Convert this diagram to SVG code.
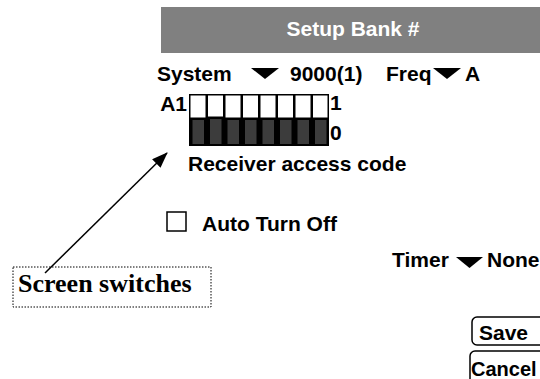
<svg xmlns="http://www.w3.org/2000/svg" width="540" height="379" viewBox="0 0 540 379">
<style>
.t{font-family:"Liberation Sans",Arial,sans-serif;font-weight:bold;font-size:21px;fill:#000}
.w{fill:#fff}
.dd{fill:#000}
.cell{fill:#fff}
.dk{fill:#3c3c3c}
.btn{fill:#fff;stroke:#000;stroke-width:1.5}
.lbl{font-family:"Liberation Serif","Times New Roman",serif;font-weight:bold;font-size:26px;fill:#000}
</style>
<defs>
<marker id="ah" markerUnits="userSpaceOnUse" markerWidth="16" markerHeight="12" refX="15" refY="6" orient="auto">
<path d="M0,0 L16,6 L0,12 z" fill="#000"/>
</marker>
</defs>
<rect width="540" height="379" fill="#fff"/>
<g id="header">
<rect x="161" y="7" width="379" height="46" fill="#808080"/>
<text class="t w" x="353" y="36" text-anchor="middle">Setup Bank #</text>
</g>
<g id="system-row">
<text class="t" x="157" y="81">System</text>
<polygon class="dd" points="251,68 279,68 265,79"/>
<text class="t" x="290" y="81">9000(1)</text>
<text class="t" x="386" y="81">Freq</text>
<polygon class="dd" points="433,68 461,68 447,79"/>
<text class="t" x="465" y="81">A</text>
</g>
<g id="switches">
<text class="t" x="187" y="111" text-anchor="end">A1</text>
<rect x="189" y="94" width="140" height="52" fill="#000"/>
<rect class="cell" x="190.5" y="95.5" width="15" height="22"/>
<rect class="cell" x="208" y="95.5" width="15" height="21"/>
<rect class="cell" x="225.5" y="95.5" width="15" height="22"/>
<rect class="cell" x="243" y="95.5" width="15" height="22"/>
<rect class="cell" x="260.5" y="95.5" width="15" height="22"/>
<rect class="cell" x="278" y="95.5" width="15" height="22"/>
<rect class="cell" x="295.5" y="95.5" width="15" height="22"/>
<rect class="cell" x="313" y="95.5" width="14.5" height="22"/>
<rect class="dk" x="192.5" y="120" width="11.5" height="24"/>
<rect class="dk" x="210" y="119" width="11.5" height="25"/>
<rect class="dk" x="227.5" y="120" width="11.5" height="24"/>
<rect class="dk" x="245" y="120" width="11.5" height="24"/>
<rect class="dk" x="262.5" y="120" width="11.5" height="24"/>
<rect class="dk" x="280" y="120" width="11.5" height="24"/>
<rect class="dk" x="297.5" y="120" width="11.5" height="24"/>
<rect class="dk" x="315" y="120" width="11.5" height="24"/>
<text class="t" x="330" y="110">1</text>
<text class="t" x="330" y="140">0</text>
<text class="t" x="188" y="171">Receiver access code</text>
</g>
<g id="auto-turn-off">
<rect x="167" y="212" width="19" height="19" fill="#fff" stroke="#000" stroke-width="1.5"/>
<text class="t" x="202" y="231">Auto Turn Off</text>
</g>
<g id="timer">
<text class="t" x="392" y="267">Timer</text>
<polygon class="dd" points="456,257 483,257 469.5,268"/>
<text class="t" x="487" y="267">None</text>
</g>
<g id="save">
<rect class="btn" x="472" y="317" width="80" height="28" rx="5"/>
<text class="t" x="479" y="340">Save</text>
</g>
<g id="cancel">
<rect class="btn" x="470" y="351" width="80" height="40" rx="5"/>
<text class="t" x="471" y="376" style="font-size:20px">Cancel</text>
</g>
<g id="screen-switches">
<rect x="13" y="267" width="198" height="40" fill="none" stroke="#000" stroke-width="1" stroke-dasharray="1.5 1.5"/>
<text class="lbl" x="18" y="292">Screen switches</text>
</g>
<g id="connectors">
<line x1="45" y1="273" x2="167" y2="153" stroke="#000" stroke-width="1.5" marker-end="url(#ah)"/>
</g>
</svg>
